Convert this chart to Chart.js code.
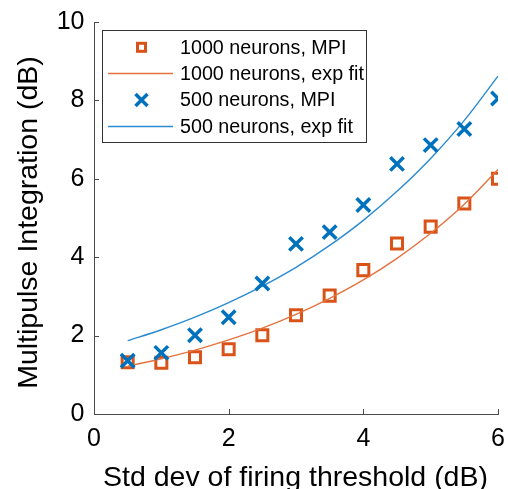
<!DOCTYPE html>
<html>
<head>
<meta charset="utf-8">
<script src="https://cdn.jsdelivr.net/npm/chart.js@4.4.1/dist/chart.umd.min.js"></script>
<style>
  html, body { margin: 0; padding: 0; background: #fff; }
  #wrap { width: 508px; height: 489px; }
</style>
</head>
<body>
<div id="wrap"><canvas id="c" width="508" height="489"></canvas></div>
<script>
// ---- data ----
const xValues = [0.5, 1, 1.5, 2, 2.5, 3, 3.5, 4, 4.5, 5, 5.5, 6];
const mpi1000 = [1.32, 1.31, 1.45, 1.65, 2.01, 2.52, 3.02, 3.67, 4.35, 4.78, 5.37, 6.0];
const fit1000 = [1.22, 1.41, 1.63, 1.89, 2.19, 2.54, 2.95, 3.42, 3.97, 4.61, 5.35, 6.24];
const mpi500  = [1.36, 1.56, 2.01, 2.47, 3.33, 4.34, 4.64, 5.33, 6.38, 6.86, 7.27, 8.05];
const fit500  = [1.87, 2.15, 2.47, 2.84, 3.26, 3.74, 4.30, 4.94, 5.68, 6.52, 7.49, 8.62];
const seriesLabels = ['1000 neurons, MPI', '1000 neurons, exp fit', '500 neurons, MPI', '500 neurons, exp fit'];
const xTicks = [0, 2, 4, 6];
const yTicks = [0, 2, 4, 6, 8, 10];
const xTitle = 'Std dev of firing threshold (dB)';
const yTitle = 'Multipulse Integration (dB)';

const ORANGE = '#D95319';
const ORANGE_LINE = '#E5733F';
const BLUE = '#0072BD';
const BLUE_LINE = '#2A8BD2';
const AXIS = '#4a4a4a';
const FONT = '"Liberation Sans", Arial, Helvetica, sans-serif';

const pts = (ys) => xValues.map((x, i) => ({ x: x, y: ys[i] }));

const decor = {
  id: 'decor',
  afterDraw(chart) {
    const ctx = chart.ctx;
    const xs = chart.scales.x, ys = chart.scales.y;
    const ca = chart.chartArea;
    ctx.save();
    // inward tick marks
    ctx.strokeStyle = AXIS;
    ctx.lineWidth = 1;
    ctx.beginPath();
    xTicks.forEach(v => {
      const px = Math.round(xs.getPixelForValue(v)) + 0.5;
      ctx.moveTo(px, ca.bottom);
      ctx.lineTo(px, ca.bottom - 5);
    });
    yTicks.forEach(v => {
      const py = Math.round(ys.getPixelForValue(v)) + 0.5;
      ctx.moveTo(ca.left, py);
      ctx.lineTo(ca.left + 5, py);
    });
    ctx.stroke();

    // axis titles
    ctx.fillStyle = '#000';
    ctx.font = '28.5px ' + FONT;
    ctx.textAlign = 'center';
    ctx.textBaseline = 'alphabetic';
    ctx.fillText(xTitle, 295.5, 485.5);
    ctx.save();
    ctx.translate(37, 222.5);
    ctx.rotate(-Math.PI / 2);
    ctx.fillText(yTitle, 0, 0);
    ctx.restore();

    // legend
    const lx = 102.5, ly = 30.5, lw = 264, lh = 112;
    ctx.fillStyle = '#fff';
    ctx.fillRect(lx, ly, lw, lh);
    ctx.strokeStyle = '#333';
    ctx.lineWidth = 1;
    ctx.strokeRect(lx, ly, lw, lh);
    const rows = [47.3, 73.5, 100, 126.5];
    const mx = 141.5;
    ctx.font = '19.7px ' + FONT;
    ctx.textAlign = 'left';
    ctx.textBaseline = 'middle';
    rows.forEach((ry, i) => {
      const ds = chart.data.datasets[i];
      if (i === 0) {
        ctx.strokeStyle = ORANGE; ctx.lineWidth = 3;
        ctx.strokeRect(mx - 4, ry - 4, 8, 8);
      } else if (i === 2) {
        ctx.strokeStyle = BLUE; ctx.lineWidth = 3.5;
        ctx.beginPath();
        ctx.moveTo(mx - 6, ry - 6); ctx.lineTo(mx + 6, ry + 6);
        ctx.moveTo(mx + 6, ry - 6); ctx.lineTo(mx - 6, ry + 6);
        ctx.stroke();
      } else {
        ctx.strokeStyle = ds.borderColor; ctx.lineWidth = 1.4;
        ctx.beginPath();
        ctx.moveTo(108, ry); ctx.lineTo(173, ry);
        ctx.stroke();
      }
      ctx.fillStyle = '#000';
      ctx.fillText(ds.label, 180, ry + 1);
    });
    ctx.restore();
  }
};

new Chart(document.getElementById('c'), {
  type: 'scatter',
  data: {
    datasets: [
      { label: seriesLabels[0], data: pts(mpi1000), pointStyle: 'rect', pointRadius: 7.8, pointHoverRadius: 7.8,
        borderWidth: 3, borderColor: ORANGE, backgroundColor: 'rgba(255,255,255,0)', showLine: false, order: 3 },
      { label: seriesLabels[1], data: pts(fit1000), showLine: true, pointRadius: 0, borderColor: ORANGE_LINE,
        borderWidth: 1.4, cubicInterpolationMode: 'monotone', fill: false, order: 2 },
      { label: seriesLabels[2], data: pts(mpi500), pointStyle: 'crossRot', pointRadius: 9.5, pointHoverRadius: 9.5,
        borderWidth: 3.5, borderColor: BLUE, backgroundColor: BLUE, showLine: false, order: 0 },
      { label: seriesLabels[3], data: pts(fit500), showLine: true, pointRadius: 0, borderColor: BLUE_LINE,
        borderWidth: 1.4, cubicInterpolationMode: 'monotone', fill: false, order: 1 }
    ]
  },
  options: {
    responsive: false,
    devicePixelRatio: 1,
    animation: false,
    events: [],
    layout: { autoPadding: false, padding: { left: 0, right: 10, top: 22, bottom: 0 } },
    plugins: { legend: { display: false }, tooltip: { enabled: false } },
    scales: {
      x: {
        type: 'linear', min: 0, max: 6,
        afterFit: (s) => { s.height = 75; s.paddingLeft = 0; s.paddingRight = 0; },
        afterBuildTicks: (s) => { s.ticks = xTicks.map(v => ({ value: v })); },
        ticks: { font: { family: FONT, size: 25 }, color: '#000', padding: 10 },
        grid: { display: false, drawTicks: false },
        border: { display: true, color: AXIS, width: 1 }
      },
      y: {
        type: 'linear', min: 0, max: 10,
        afterFit: (s) => { s.width = 94; s.paddingTop = 0; s.paddingBottom = 0; },
        afterBuildTicks: (s) => { s.ticks = yTicks.map(v => ({ value: v })); },
        ticks: { font: { family: FONT, size: 25 }, color: '#000', padding: 9.5 },
        grid: { display: false, drawTicks: false },
        border: { display: true, color: AXIS, width: 1 }
      }
    }
  },
  plugins: [decor]
});
</script>
</body>
</html>
